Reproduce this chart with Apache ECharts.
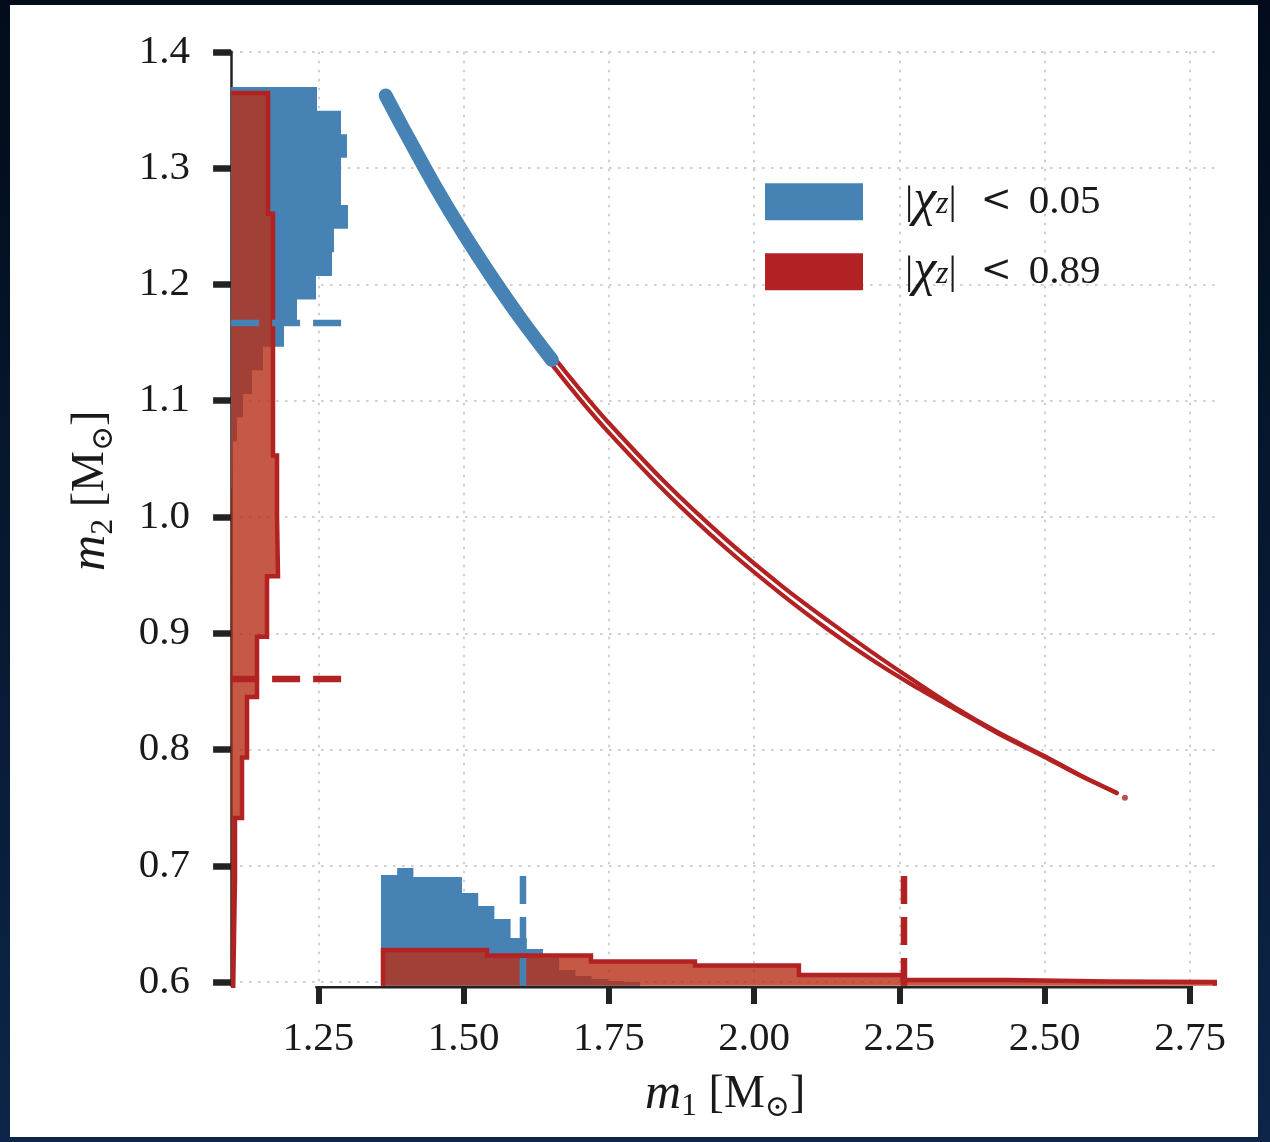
<!DOCTYPE html>
<html><head><meta charset="utf-8">
<script src="https://cdn.jsdelivr.net/npm/echarts@6/dist/echarts.min.js"></script>
<style>
html,body{margin:0;padding:0;width:1270px;height:1142px;overflow:hidden;background:linear-gradient(#020c1a,#0c2548);}
#paper{position:absolute;left:10px;top:5px;width:1248px;height:1132px;background:#fff;}
#chart{position:absolute;left:0;top:0;width:1270px;height:1142px;}
</style></head><body>
<div id="paper"></div><div id="chart"></div>
<script>
// ---- axes ----
const xTicks = [1.25, 1.50, 1.75, 2.00, 2.25, 2.50, 2.75];
const yTicks = [0.6, 0.7, 0.8, 0.9, 1.0, 1.1, 1.2, 1.3, 1.4];
const xMin = 1.1, xMax = 2.8, yMin = 0.597, yMax = 1.4;

// ---- m2 marginal (left), |chi|<0.05 (blue) : bin edges in m2, extent in m1 ----
const lowM2Edges = [1.3697, 1.3494, 1.3291, 1.3088, 1.2885, 1.2682, 1.2479, 1.2276, 1.2073, 1.1870, 1.1667, 1.1464, 1.1261, 1.1058, 1.0855, 1.0652, 1.0449, 1.0246];
const lowM2Hist  = [1.2478, 1.2891, 1.2994, 1.2891, 1.2891, 1.3011, 1.2770, 1.2736, 1.2461, 1.2134, 1.1910, 1.1549, 1.1360, 1.1205, 1.1102, 1.1033, 1.1015];
// ---- m2 marginal (left), |chi|<0.89 (red) ----
const highM2Edges = [1.3646, 1.3126, 1.2607, 1.2088, 1.1568, 1.1049, 1.0529, 1.0010, 0.9491, 0.8971, 0.8452, 0.7932, 0.7413, 0.6894, 0.6374, 0.5855];
const highM2Hist  = [1.1635, 1.1635, 1.1721, 1.1721, 1.1721, 1.1721, 1.1790, 1.1807, 1.1618, 1.1446, 1.1274, 1.1188, 1.1067, 1.1050, 1.1033];
// ---- m1 marginal (bottom), |chi|<0.05 (blue) : bin edges in m1, height in m2 ----
const lowM1Edges = [1.3579, 1.3858, 1.4137, 1.4415, 1.4694, 1.4973, 1.5252, 1.5530, 1.5809, 1.6088, 1.6367, 1.6645, 1.6924, 1.7203, 1.7482, 1.7760, 1.8039];
const lowM1Hist  = [0.6922, 0.6982, 0.6905, 0.6905, 0.6905, 0.6767, 0.6656, 0.6544, 0.6381, 0.6286, 0.6209, 0.6106, 0.6054, 0.6028, 0.6011, 0.6002];
// ---- m1 marginal (bottom), |chi|<0.89 (red) ----
const highM1Edges = [1.3614, 1.5403, 1.7192, 1.8981, 2.0770, 2.2559, 2.4348, 2.6137, 2.7926];
const highM1Hist  = [0.6277, 0.6230, 0.6178, 0.6143, 0.6062, 0.6019, 0.6006, 0.6002];

// ---- 90% limits ----
const lowM1Upper = 1.6022, highM1Upper = 2.2578;
const lowM2Lower = 1.1668, highM2Lower = 0.8607;
const limitM1Reach = 1.2927, limitM2Reach = 0.6913;

// ---- 2D posterior ridge ----
const lowCurveM1 = [1.366, 1.400, 1.450, 1.500, 1.550, 1.600, 1.652];
const lowCurveM2 = [1.3625, 1.3305, 1.2853, 1.2437, 1.2053, 1.1694, 1.135];
const highCurveM1 = [1.60, 1.65, 1.70, 1.75, 1.85, 1.95, 2.05, 2.13, 2.20, 2.27, 2.343, 2.42, 2.50, 2.56, 2.624];
const highUpperM2 = [1.1736, 1.1407, 1.1098, 1.0808, 1.0281, 0.9814, 0.9398, 0.9098, 0.8847, 0.8609, 0.8371, 0.8148, 0.7944, 0.7782, 0.7627];
const highLowerM2 = [1.1652, 1.1323, 1.1014, 1.0726, 1.0203, 0.9738, 0.9324, 0.9022, 0.8781, 0.8563, 0.8355, 0.8138, 0.7936, 0.7778, 0.7627];
const highEndDot = [2.638, 0.7585];

const legendLabels = { low: '0.05', high: '0.89' };

// colours
const BLUE = '#4682b4', RED = '#b22222', REDFILL = 'rgba(182,48,22,0.8)';
const FONT = 'Liberation Serif';

function stairLeft(edges, vals, base) {
  const p = [[base, edges[0]]];
  for (let i = 0; i < vals.length; i++) { p.push([vals[i], edges[i]]); p.push([vals[i], edges[i + 1]]); }
  p.push([base, edges[edges.length - 1]]);
  return p;
}
function stairBottom(edges, vals, base) {
  const p = [[edges[0], base]];
  for (let i = 0; i < vals.length; i++) { p.push([edges[i], vals[i]]); p.push([edges[i + 1], vals[i]]); }
  p.push([edges[edges.length - 1], base]);
  return p;
}
function fillSeries(name, pts, fill, z) {
  return {
    type: 'custom', name: name, z: z, silent: true, data: pts,
    encode: { x: 0, y: 1 },
    renderItem: function (params, api) {
      if (params.dataIndex !== 0) return;
      const cs = params.coordSys;
      const P = pts.map(function (q) {
        const c = api.coord(q);
        return [Math.min(Math.max(c[0], cs.x), cs.x + cs.width), Math.min(Math.max(c[1], cs.y), cs.y + cs.height)];
      });
      return { type: 'polygon', shape: { points: P }, style: { fill: fill } };
    }
  };
}
function lineSeries(name, pts, style, z, extra) {
  return Object.assign({
    type: 'line', name: name, z: z, data: pts, showSymbol: false, symbol: 'none',
    silent: true, clip: true, animation: false,
    lineStyle: style
  }, extra || {});
}
const zip = (a, b) => a.map((v, i) => [v, b[i]]);

const leftLow = stairLeft(lowM2Edges, lowM2Hist, xMin);
const leftHigh = stairLeft(highM2Edges, highM2Hist, xMin);
const botLow = stairBottom(lowM1Edges, lowM1Hist, yMin);
const botHigh = stairBottom(highM1Edges, highM1Hist, yMin);

const dash = { width: 6.5, type: [28, 13], cap: 'butt' };

const series = [
  fillSeries('low', leftLow, BLUE, 2),
  fillSeries('lowB', botLow, BLUE, 2),
  fillSeries('high', leftHigh, REDFILL, 3),
  fillSeries('highB', botHigh, REDFILL, 3),
  lineSeries('highOutL', leftHigh, { color: RED, width: 4.5, join: 'miter' }, 4),
  lineSeries('highOutB', botHigh, { color: RED, width: 4.5, join: 'miter' }, 4),
  lineSeries('ridgeHiU', zip(highCurveM1, highUpperM2), { color: RED, width: 4.2, cap: 'round' }, 5, { smooth: 0.3 }),
  lineSeries('ridgeHiL', zip(highCurveM1, highLowerM2), { color: RED, width: 4.2, cap: 'round' }, 5, { smooth: 0.3 }),
  { type: 'scatter', name: 'dot', z: 5, silent: true, data: [highEndDot], symbolSize: 6, itemStyle: { color: RED } },
  lineSeries('ridgeLo', zip(lowCurveM1, lowCurveM2), { color: BLUE, width: 14, cap: 'round', join: 'round' }, 6, { smooth: 0.3 }),
  lineSeries('limLoM2', [[xMin, lowM2Lower], [limitM1Reach, lowM2Lower]], Object.assign({ color: BLUE }, dash), 7, { clip: false }),
  lineSeries('limHiM2', [[xMin, highM2Lower], [limitM1Reach, highM2Lower]], Object.assign({ color: RED }, dash), 7, { clip: false }),
  lineSeries('limLoM1', [[lowM1Upper, limitM2Reach], [lowM1Upper, yMin]], Object.assign({ color: BLUE }, dash), 7, { clip: false }),
  lineSeries('limHiM1', [[highM1Upper, limitM2Reach], [highM1Upper, yMin]], Object.assign({ color: RED }, dash), 7, { clip: false })
];

const gridLine = { show: true, lineStyle: { color: '#cfcfcf', width: 2, type: [2.5, 6.5] } };
const labelStyle = { fontSize: 41, fontFamily: FONT, color: '#1a1a1a' };
const nameRich = {
  i: { fontStyle: 'italic', fontSize: 50, fontFamily: FONT, color: '#1a1a1a', lineHeight: 56 },
  n: { fontSize: 46, fontFamily: FONT, color: '#1a1a1a', lineHeight: 56 },
  s: { fontSize: 32, fontFamily: FONT, color: '#1a1a1a', lineHeight: 30, verticalAlign: 'bottom' },
  o: { fontSize: 30, fontFamily: 'DejaVu Serif', color: '#1a1a1a', lineHeight: 34, verticalAlign: 'bottom' }
};

const chart = echarts.init(document.getElementById('chart'), null, { renderer: 'canvas' });
chart.setOption({
  animation: false,
  backgroundColor: 'transparent',
  grid: { left: 231.1, right: 50.9, top: 51.8, bottom: 156.3, containLabel: false },
  legend: {
    show: true, orient: 'vertical', left: 765, top: 175.8, padding: 0,
    itemWidth: 98, itemHeight: 37, itemGap: 18, selectedMode: false,
    data: [
      { name: 'low', icon: 'rect', itemStyle: { color: BLUE } },
      { name: 'high', icon: 'rect', itemStyle: { color: RED } }
    ],
    formatter: function (n) { return '{g|}{t||}{i|χ}{z|z}{t||}{sp|}{lt|<}{sp2|}{t|' + legendLabels[n] + '}'; },
    textStyle: {
      fontSize: 41, fontFamily: FONT, color: '#1a1a1a', lineHeight: 37,
      rich: {
        g: { width: 37, lineHeight: 37 },
        sp: { width: 24, lineHeight: 37 },
        sp2: { width: 17, lineHeight: 37 },
        t: { fontSize: 41, fontFamily: FONT, color: '#1a1a1a', lineHeight: 37 },
        lt: { fontSize: 37, fontFamily: 'DejaVu Serif', color: '#1a1a1a', lineHeight: 37 },
        i: { fontSize: 52, fontStyle: 'italic', fontFamily: FONT, color: '#1a1a1a', lineHeight: 37 },
        z: { fontSize: 32, fontStyle: 'italic', fontFamily: FONT, color: '#1a1a1a', lineHeight: 20, verticalAlign: 'bottom' }
      }
    }
  },
  xAxis: {
    type: 'value', min: xMin, max: xMax, offset: 1.3,
    axisLine: { show: false },
    axisTick: { show: true, customValues: xTicks, length: 17, lineStyle: { color: '#222', width: 6 } },
    axisLabel: Object.assign({ customValues: xTicks, margin: 32, formatter: v => v.toFixed(2) }, labelStyle),
    splitLine: gridLine,
    name: '{i|m}{s|1}{n| [M}{o|⊙}{n|]}', nameLocation: 'middle', nameGap: 80,
    nameTextStyle: { rich: nameRich }
  },
  yAxis: {
    type: 'value', min: yMin, max: yMax,
    axisLine: { show: true, lineStyle: { color: '#222', width: 2.5 } },
    axisTick: { show: true, customValues: yTicks, length: 18, lineStyle: { color: '#222', width: 6.5 } },
    axisLabel: Object.assign({ customValues: yTicks, margin: 41, formatter: v => v.toFixed(1) }, labelStyle),
    splitLine: gridLine,
    name: '{i|m}{s|2}{n| [M}{o|⊙}{n|]}', nameLocation: 'middle', nameRotate: 90, nameGap: 112,
    nameTextStyle: { rich: nameRich, padding: [0, 0, 0, 56] }
  },
  series: series
});

// trimmed, slightly offset bottom spine between the first and last tick
const pL = chart.convertToPixel({ gridIndex: 0 }, [xTicks[0], yMin]);
const pR = chart.convertToPixel({ gridIndex: 0 }, [xTicks[xTicks.length - 1], yMin]);
chart.setOption({
  graphic: [{
    type: 'line', z: 100, silent: true,
    shape: { x1: pL[0] - 3, y1: pL[1] + 1.5, x2: pR[0] + 3, y2: pR[1] + 1.5 },
    style: { stroke: '#222', lineWidth: 2.5 }
  }]
});
</script>
</body></html>
